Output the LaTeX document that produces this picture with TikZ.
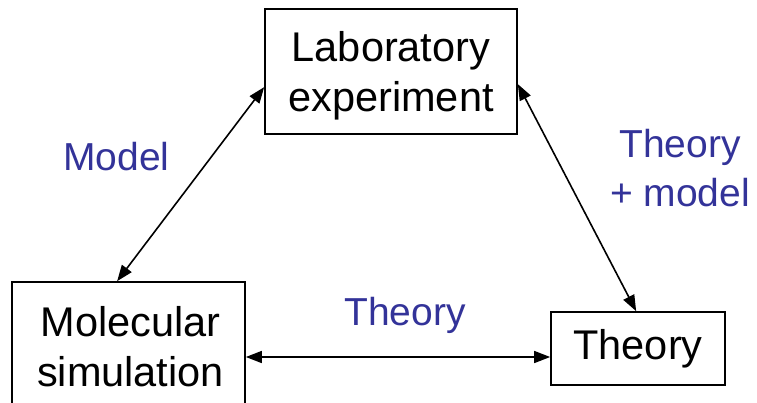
\documentclass[tikz,border=0pt]{standalone}
\usepackage{fontspec}
\setmainfont{Liberation Sans}
\usetikzlibrary{arrows.meta,calc}
\definecolor{lblue}{RGB}{51,51,153}
\tikzset{
  box/.style={draw=black, line width=1.7pt, inner sep=0pt},
  boxtext/.style={inner sep=0pt, align=center, font=\fontsize{41.5}{50}\selectfont},
  lbl/.style={text=lblue, inner sep=0pt, align=center,
    font=\fontsize{39}{49}\selectfont},
  link/.style={line width=1.6pt, {Triangle[length=16pt,width=12pt]}-{Triangle[length=16pt,width=12pt]}}
}
\begin{document}
\begin{tikzpicture}[x=1pt,y=1pt]
\useasboundingbox[fill=white] (0,0) rectangle (757,-402);
\node[box, minimum width=252pt, minimum height=125pt] (lab) at (391,-71.5) {};
\node[boxtext] (labtxt) at ([yshift=-4pt]lab.center) {Laboratory\\experiment};
\node[box, minimum width=233pt, minimum height=128pt] (mol) at (128.5,-346) {};
\node[boxtext] (moltxt) at ([xshift=2pt,yshift=-1pt]mol.center) {Molecular\\simulation};
\node[box, minimum width=174pt, minimum height=73pt] (theo) at (638,-348.5) {};
\node[boxtext] (theotxt) at (theo.center) {Theory};
\node[lbl, anchor=base] (lmodel) at (116.5,-170) {Model};
\node[lbl, anchor=base] (ltm) at (680,-206) {Theory\\+ model};
\node[lbl, anchor=base] (lth) at (405,-325) {Theory};
\draw[link] ([xshift=106pt]mol.north west) -- ([yshift=-79pt]lab.north west);
\draw[link] ([yshift=-76pt]lab.north east) -- ([xshift=86pt]theo.north west);
\draw[link] ([yshift=-11pt]mol.east) -- ([yshift=-8.5pt]theo.west);
\end{tikzpicture}
\end{document}
